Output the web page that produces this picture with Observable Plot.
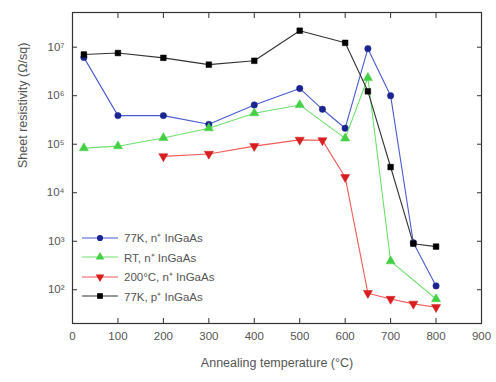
<!DOCTYPE html>
<html><head><meta charset="utf-8">
<script src="https://cdn.jsdelivr.net/npm/d3@7"></script>
<script src="https://cdn.jsdelivr.net/npm/@observablehq/plot@0.6"></script>
<style>
body{margin:0;background:#fff;font-family:"Liberation Sans",Arial,sans-serif;}
#wrap{position:relative;width:496px;height:382px;}
#legend{position:absolute;left:80px;top:228px;font-size:11.5px;color:#555;}
#legend .row{display:flex;align-items:center;height:19.5px;}
#legend svg{margin-right:4px;}
</style></head><body>
<div id="wrap"><div id="chart"></div><div id="legend"></div></div>
<script>
const seriesNames = ["77K, n⁺ InGaAs","RT, n⁺ InGaAs","200°C, n⁺ InGaAs","77K, p⁺ InGaAs"];
const temps77n = [25,100,200,300,400,500,550,600,650,700,750,800];
const logR77n  = [6.79,5.59,5.59,5.41,5.81,6.15,5.72,5.33,6.97,6.0,2.97,2.08];
const tempsRT  = [25,100,200,300,400,500,600,650,700,800];
const logRRT   = [4.92,4.96,5.13,5.33,5.64,5.81,5.12,6.37,2.59,1.81];
const temps200 = [200,300,400,500,550,600,650,700,750,800];
const logR200  = [4.75,4.80,4.96,5.09,5.08,4.32,1.93,1.81,1.71,1.64];
const temps77p = [25,100,200,300,400,500,600,650,700,750,800];
const logR77p  = [6.85,6.88,6.78,6.64,6.72,7.34,7.09,6.09,4.53,2.95,2.89];
const xTicks = [0,100,200,300,400,500,600,700,800,900];
const yTicks = [1e2,1e3,1e4,1e5,1e6,1e7];
const sup = {"0":"⁰","1":"¹","2":"²","3":"³","4":"⁴","5":"⁵","6":"⁶","7":"⁷","8":"⁸","9":"⁹"};

const styles = [
  {line:"#4a5bd0", fill:"#1a2590", symbol:"circle", rotate:0, r:3.2},
  {line:"#6ee06e", fill:"#44d044", symbol:"triangle", rotate:0, r:3.4},
  {line:"#f05a5a", fill:"#d81e1e", symbol:"triangle", rotate:180, r:3.4},
  {line:"#333333", fill:"#000000", symbol:"square", rotate:0, r:3.2}
];
const rows = [[temps77n,logR77n],[tempsRT,logRRT],[temps200,logR200],[temps77p,logR77p]];
const data = rows.map(([t,l],i)=>t.map((x,j)=>({series:seriesNames[i], T:x, R:Math.pow(10,l[j])})));

const marks = [];
data.forEach((d,i)=>{
  const s = styles[i];
  marks.push(Plot.line(d,{x:"T",y:"R",stroke:s.line,strokeWidth:1.1}));
  marks.push(Plot.dot(d,{x:"T",y:"R",fill:s.fill,stroke:s.fill,strokeWidth:0.5,symbol:s.symbol,r:s.r,rotate:s.rotate}));
});

const plot = Plot.plot({
  width:496, height:382,
  marginLeft:72, marginRight:15, marginTop:12, marginBottom:59,
  style:{fontFamily:"Liberation Sans, Arial, sans-serif", fontSize:"11.5px", color:"#555", background:"#fff"},
  x:{domain:[0,900]},
  y:{type:"log", domain:[Math.pow(10,1.305), Math.pow(10,7.715)]},
  marks:[
    Plot.frame({stroke:"#333", strokeWidth:1.2}),
    Plot.axisX({ticks:xTicks, tickSize:0, tickPadding:8, label:null, fill:"#555"}),
    Plot.axisX({ticks:xTicks.slice(1,-1), tickSize:-5, text:null, label:null, stroke:"#333"}),
    Plot.axisX({anchor:"top", ticks:xTicks.slice(1,-1), tickSize:-5, text:null, label:null, stroke:"#333"}),
    Plot.axisY({ticks:yTicks, tickSize:0, tickPadding:8, label:null, fill:"#555",
      tickFormat:d=>"10"+String(Math.round(Math.log10(d))).split("").map(c=>sup[c]).join("")}),
    Plot.axisY({ticks:yTicks, tickSize:-5, text:null, label:null, stroke:"#333"}),
    Plot.axisY({anchor:"right", ticks:yTicks, tickSize:-5, text:null, label:null, stroke:"#333"}),
    ...marks,
    Plot.text(["Annealing temperature (°C)"],{frameAnchor:"bottom", dy:43, fill:"#555", fontSize:12.5}),
    Plot.text(["Sheet resistivity (Ω/sq)"],{frameAnchor:"left", dx:-50, rotate:-90, fill:"#555", fontSize:12.5})
  ]
});
document.getElementById("chart").appendChild(plot);

const leg = document.getElementById("legend");
const symPath = {
  circle: d3.symbol(d3.symbolCircle, 30)(),
  triangle: d3.symbol(d3.symbolTriangle, 32)(),
  square: d3.symbol(d3.symbolSquare, 32)()
};
seriesNames.forEach((name,i)=>{
  const s = styles[i];
  const row = document.createElement("div");
  row.className = "row";
  row.innerHTML = `<svg width="40" height="12"><line x1="2" x2="38" y1="6" y2="6" stroke="${s.line}" stroke-width="1.1"/><path d="${symPath[s.symbol]}" transform="translate(20,6) rotate(${s.rotate})" fill="${s.fill}"/></svg><span>${name}</span>`;
  leg.appendChild(row);
});
</script></body></html>
